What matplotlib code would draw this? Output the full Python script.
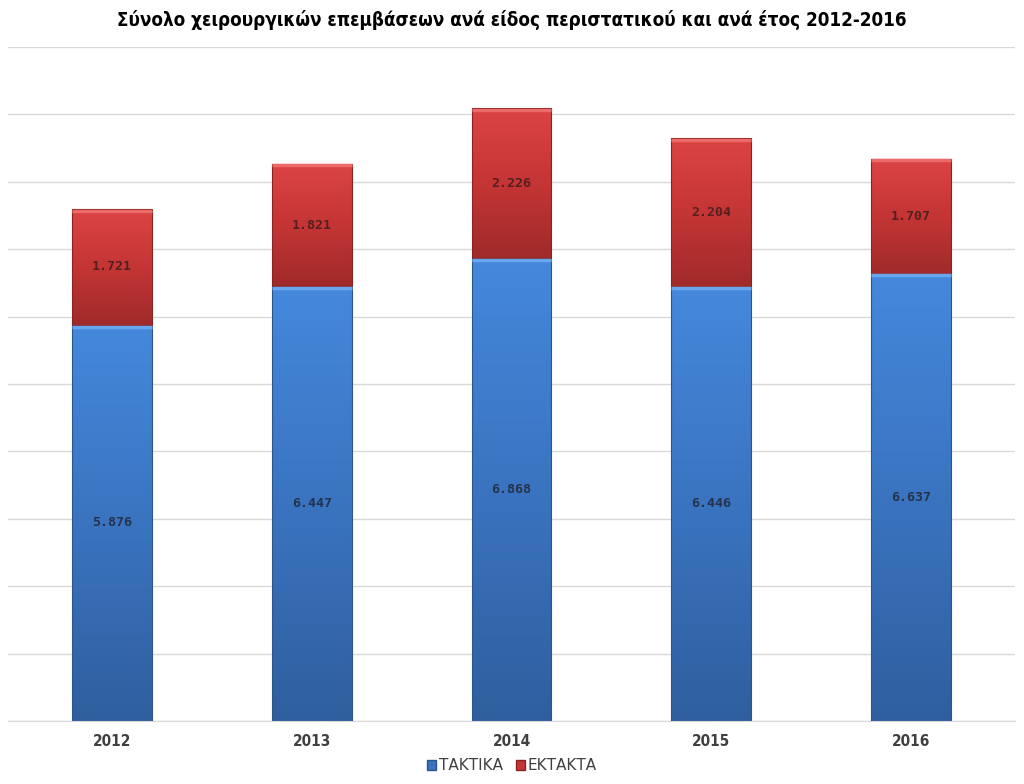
import matplotlib
matplotlib.use('Agg')
import matplotlib.pyplot as plt
import numpy as np
from matplotlib.colors import LinearSegmentedColormap
from matplotlib.patches import Patch

years = ['2012', '2013', '2014', '2015', '2016']
taktika = [5876, 6447, 6868, 6446, 6637]
ektakta = [1721, 1821, 2226, 2204, 1707]

TITLE = 'Σύνολο χειρουργικών επεμβάσεων ανά είδος περιστατικού και ανά έτος 2012-2016'

plt.rcParams['font.family'] = ['DejaVu Sans']

blue_cmap = LinearSegmentedColormap.from_list('b', ['#2f5f9e', '#3a74c0', '#4588dc'])
red_cmap = LinearSegmentedColormap.from_list('r', ['#a02a2a', '#c53535', '#dc4444'])


def fmt(v):
    return f'{v:,}'.replace(',', '.')


def gradient_bars(ax, bars, cmap, edge, top_hl):
    grad = np.linspace(0, 1, 256).reshape(-1, 1)
    for bar in bars:
        x, y = bar.get_x(), bar.get_y()
        w, h = bar.get_width(), bar.get_height()
        im = ax.imshow(grad, cmap=cmap, origin='lower', aspect='auto',
                       extent=[x, x + w, y, y + h], zorder=2)
        im.set_clip_path(bar)
        bar.set_facecolor('none')
        bar.set_edgecolor(edge)
        bar.set_linewidth(0.8)
        bar.set_zorder(3)
        ax.plot([x, x + w], [y + h - 25, y + h - 25], color=top_hl, lw=2.5,
                solid_capstyle='butt', zorder=3)


fig = plt.figure(figsize=(10.24, 7.84), dpi=100)
ax = fig.add_axes([8 / 1024, 63 / 784, 1007 / 1024, 674 / 784])

x = np.arange(len(years))
b1 = ax.bar(x, taktika, width=0.4, color='#3a74c0')
b2 = ax.bar(x, ektakta, width=0.4, bottom=taktika, color='#c53535')
gradient_bars(ax, b1, blue_cmap, '#2c558c', '#6aa6ee')
gradient_bars(ax, b2, red_cmap, '#8a2424', '#ec6a6a')

for i in range(len(years)):
    ax.text(x[i], taktika[i] / 2, fmt(taktika[i]), ha='center', va='center',
            fontsize=9.5, fontweight='bold', color='#26324a',
            family=['DejaVu Sans Mono'], zorder=5)
    ax.text(x[i], taktika[i] + ektakta[i] / 2, fmt(ektakta[i]), ha='center',
            va='center', fontsize=9.5, fontweight='bold', color='#551f1f',
            family=['DejaVu Sans Mono'], zorder=5)

ax.set_xlim(-0.52, len(years) - 0.48)
ax.set_ylim(0, 10000)
ax.set_yticks(np.arange(0, 10001, 1000))
ax.yaxis.grid(True, color='#d9d9d9', lw=1)
ax.set_axisbelow(True)
ax.tick_params(axis='y', left=False, labelleft=False)
ax.tick_params(axis='x', length=0, pad=9, labelsize=11, labelcolor='#404040')
ax.set_xticks(x)
ax.set_xticklabels(years, fontweight='bold', fontstretch='condensed')
for s in ['top', 'right', 'left']:
    ax.spines[s].set_visible(False)
ax.spines['bottom'].set_color('#d9d9d9')

fig.text(0.5, 1 - 20 / 784, TITLE, ha='center', va='center', fontsize=13.5,
         fontweight='bold', fontstretch='condensed', color='black')

handles = [Patch(facecolor='#3a74c0', edgecolor='#2c558c', label='ΤΑΚΤΙΚΑ'),
           Patch(facecolor='#c53535', edgecolor='#8a2424', label='ΕΚΤΑΚΤΑ')]
fig.legend(handles=handles, loc='center', bbox_to_anchor=(0.5, 1 - 766 / 784),
           ncol=2, frameon=False, fontsize=11, handlelength=0.6, handleheight=0.6,
           handletextpad=0.2, columnspacing=0.8, labelcolor='#404040')

fig.savefig('out.png', dpi=100)
